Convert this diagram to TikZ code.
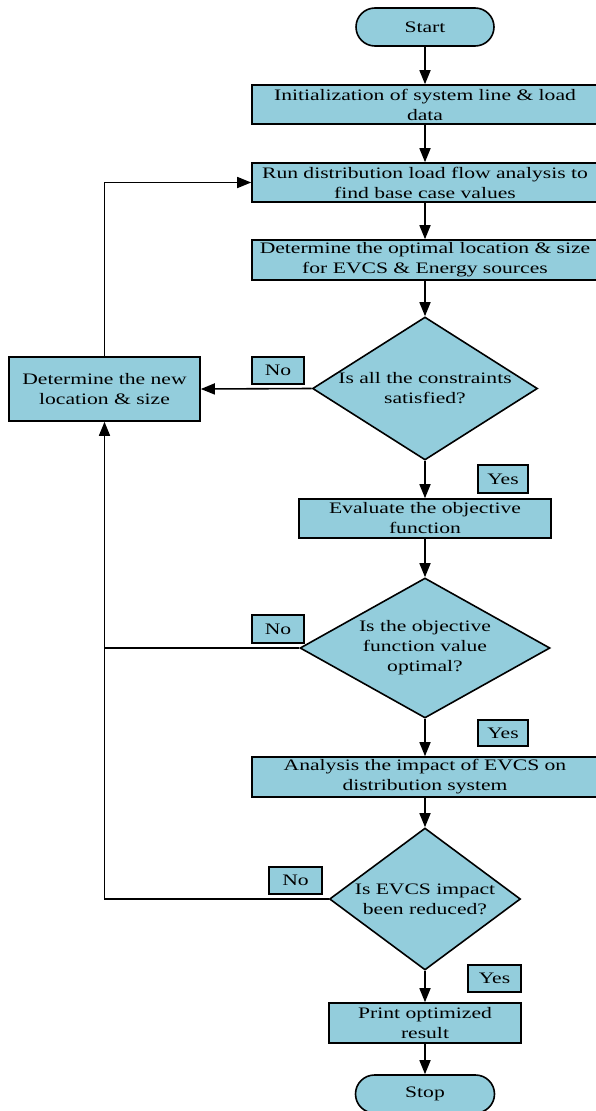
\documentclass[tikz,border=0pt]{standalone}
\usepackage{fontspec}
\setmainfont{Liberation Serif}[FakeStretch=1.35]
\usetikzlibrary{arrows.meta,shapes.geometric}
\definecolor{boxfill}{HTML}{93CDDC}
\tikzset{
  base/.style={draw=black, line width=1.6pt, fill=boxfill, inner sep=2pt,
    font=\fontsize{16pt}{20pt}\selectfont, align=center},
  proc/.style={base, rectangle, minimum width=#1, minimum height=39pt},
  term/.style={base, rectangle, rounded corners=19pt, minimum width=138pt, minimum height=38pt},
  dec/.style={base, diamond, inner sep=0pt},
  dectext/.style={font=\fontsize{16pt}{20pt}\selectfont, align=center, inner sep=0pt},
  tag/.style={base, rectangle, line width=1.1pt, minimum width=52pt, minimum height=27pt, inner sep=0pt},
  arr/.style={line width=1.6pt, -{Triangle[length=14pt,width=11pt]}},
  plain/.style={line width=1.6pt}
}
\begin{document}
\begin{tikzpicture}[x=1pt,y=-1pt]
\useasboundingbox (0,0) rectangle (596,1111);

% main column
\node[term] (start) at (425,27) {Start};
\node[proc=346pt] (init) at (425,104.5) {Initialization of system line \& load\\data};
\node[proc=346pt] (run) at (425,182.5) {Run distribution load flow analysis to\\find base case values};
\node[proc=346pt, minimum height=40pt] (opt) at (425,260) {Determine the optimal location \& size\\for EVCS \& Energy sources};
\node[dec, minimum width=225pt, minimum height=143pt,
  label={[dectext]center:Is all the constraints\\satisfied?}] (d1) at (425,388.5) {};
\node[proc=252pt] (eval) at (425,518.5) {Evaluate the objective\\function};
\node[dec, minimum width=250pt, minimum height=140pt,
  label={[dectext]center:Is the objective\\function value\\optimal?}] (d2) at (425,648) {};
\node[proc=346pt, minimum height=40pt] (anal) at (425,777) {Analysis the impact of EVCS on\\distribution system};
\node[dec, minimum width=191pt, minimum height=142pt,
  label={[dectext]center:Is EVCS impact\\been reduced?}] (d3) at (425,899) {};
\node[proc=192pt, minimum height=40pt] (print) at (425,1023) {Print optimized\\result};
\node[term, minimum width=139pt] (stop) at (425,1094) {Stop};

% side box
\node[proc=191pt, minimum height=64pt] (newb) at (104.5,389) {Determine the new\\location \& size};

% branch tags
\node[tag] (no1) at (278,370.5) {No};
\node[tag, minimum width=50pt, minimum height=28pt] (yes1) at (503,479) {Yes};
\node[tag, minimum height=28pt] (no2) at (278,629) {No};
\node[tag, minimum width=50pt, minimum height=26pt] (yes2) at (503,733) {Yes};
\node[tag, minimum width=53pt] (no3) at (295.5,880.5) {No};
\node[tag, minimum width=53pt] (yes3) at (494.5,978.5) {Yes};

% flow
\draw[arr] (start) -- (init);
\draw[arr] (init) -- (run);
\draw[arr] (run) -- (opt);
\draw[arr] (opt) -- (d1);
\draw[arr] (d1) -- (eval);
\draw[arr] (eval) -- (d2);
\draw[arr] (d2) -- (anal);
\draw[arr] (anal) -- (d3);
\draw[arr] (d3) -- (print);
\draw[arr] (print) -- (stop);

% loops back
\draw[arr] (d1.west) -- (newb.east);
\draw[arr] (newb.north) |- (run.west);
\draw[arr] (d2.west) -| (newb.south);
\coordinate (join) at (newb.south |- d2.west);
\draw[plain] (d3.west) -| (join);
\end{tikzpicture}
\end{document}
